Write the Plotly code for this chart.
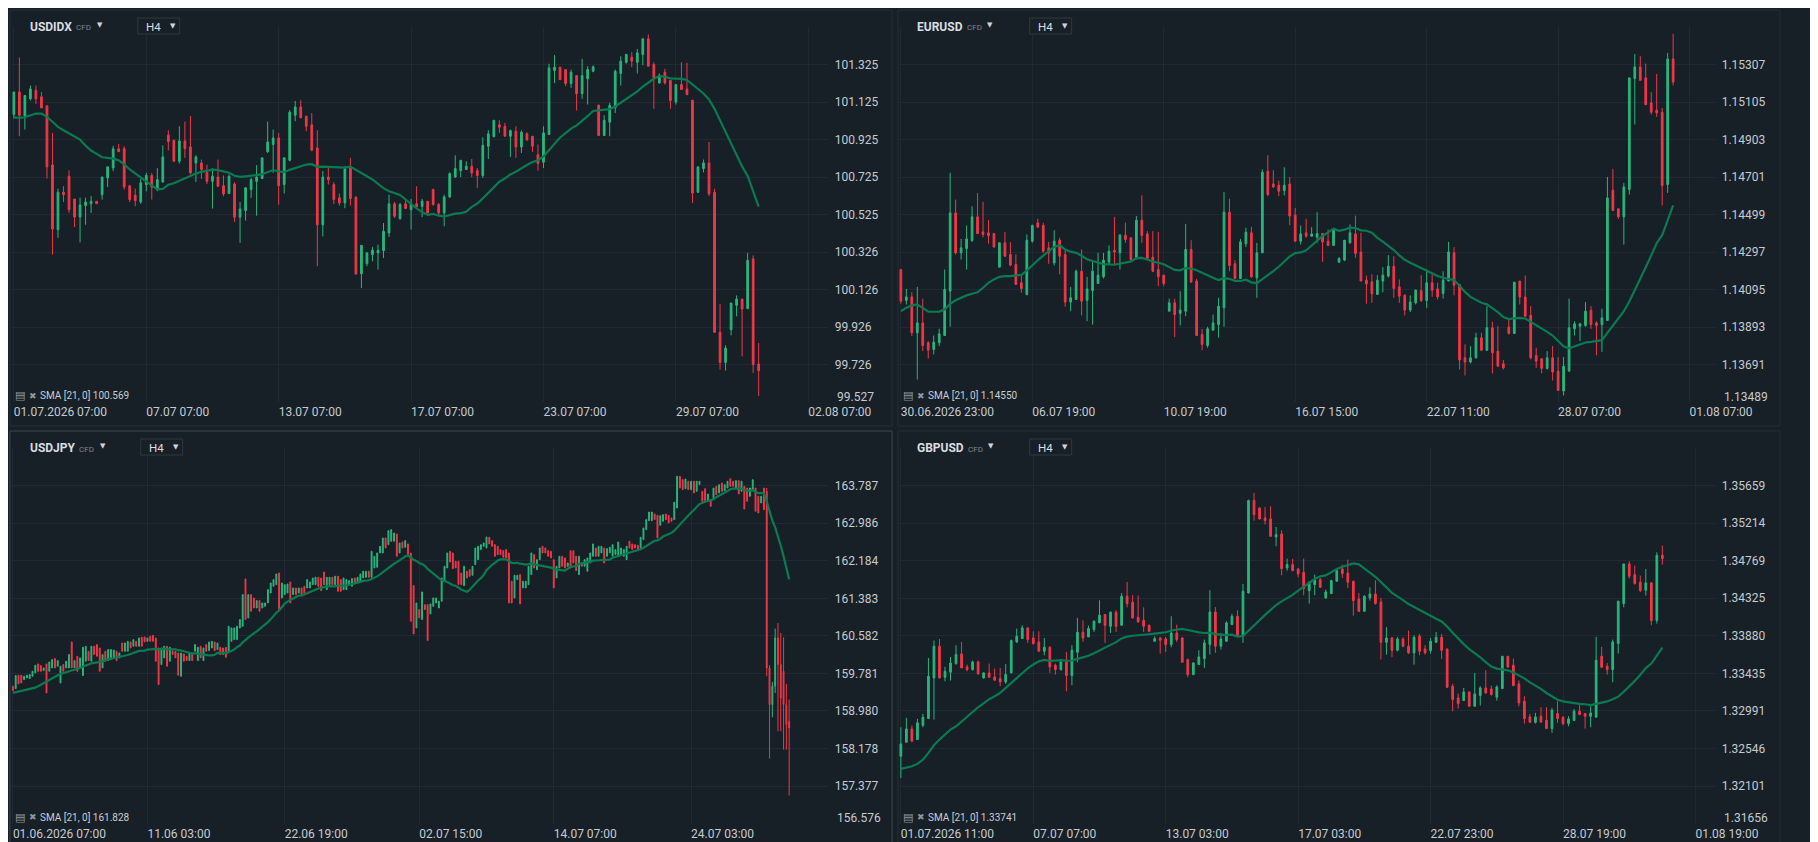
import pandas as pd
import plotly.graph_objects as go

# ---------------- data (H4 candles) ----------------

# USDIDX
usdidx_open = [101.059, 101.179, 101.050, 101.142, 101.188, 101.153, 101.105, 100.790, 100.446, 100.645,
               100.730, 100.609, 100.513, 100.574, 100.583, 100.597, 100.632, 100.721, 100.774, 100.876,
               100.877, 100.679, 100.629, 100.593, 100.686, 100.734, 100.664, 100.700, 100.949, 100.922,
               100.810, 100.918, 100.886, 100.801, 100.801, 100.751, 100.703, 100.726, 100.680, 100.638,
               100.689, 100.512, 100.547, 100.659, 100.703, 100.718, 100.861, 100.899, 100.934, 100.686,
               100.815, 101.055, 101.099, 101.050, 101.004, 100.881, 100.472, 100.726, 100.686, 100.615,
               100.588, 100.780, 100.618, 100.211, 100.265, 100.313, 100.322, 100.334, 100.428, 100.583,
               100.504, 100.583, 100.552, 100.583, 100.570, 100.597, 100.659, 100.579, 100.535, 100.620,
               100.726, 100.760, 100.766, 100.783, 100.760, 100.734, 100.890, 100.940, 101.004, 100.996,
               100.943, 100.970, 100.886, 100.956, 100.943, 100.845, 100.805, 100.952, 101.293, 101.311,
               101.298, 101.224, 101.266, 101.170, 101.249, 101.289, 101.108, 100.947, 101.018, 101.094,
               101.277, 101.337, 101.364, 101.337, 101.378, 101.462, 101.325, 101.227, 101.284, 101.240,
               101.126, 101.218, 101.195, 101.135, 100.645, 100.771, 100.801, 100.645, 99.899, 99.739,
               99.913, 100.043, 100.076, 100.025, 100.290, 99.730]
usdidx_high = [101.179, 101.362, 101.160, 101.213, 101.213, 101.179, 101.105, 100.961, 100.664, 100.677,
               100.762, 100.609, 100.616, 100.616, 100.625, 100.597, 100.726, 100.780, 100.892, 100.902,
               100.890, 100.684, 100.664, 100.716, 100.748, 100.748, 100.773, 100.895, 100.975, 100.922,
               100.996, 101.021, 101.052, 100.842, 100.819, 100.792, 100.773, 100.819, 100.734, 100.739,
               100.698, 100.593, 100.673, 100.721, 100.789, 100.828, 101.021, 100.979, 100.961, 100.828,
               101.082, 101.131, 101.135, 101.050, 101.067, 100.975, 100.758, 100.774, 100.698, 100.638,
               100.783, 100.828, 100.624, 100.362, 100.325, 100.354, 100.366, 100.481, 100.632, 100.593,
               100.588, 100.606, 100.609, 100.677, 100.609, 100.597, 100.664, 100.588, 100.632, 100.751,
               100.842, 100.815, 100.810, 100.822, 100.774, 100.938, 100.975, 101.028, 101.028, 101.014,
               100.979, 100.996, 100.975, 100.964, 100.943, 100.899, 100.996, 101.329, 101.375, 101.311,
               101.298, 101.298, 101.266, 101.355, 101.316, 101.320, 101.112, 101.055, 101.121, 101.298,
               101.369, 101.382, 101.391, 101.408, 101.462, 101.485, 101.337, 101.277, 101.302, 101.240,
               101.218, 101.337, 101.334, 101.135, 100.780, 100.819, 100.913, 100.663, 100.050, 99.830,
               100.055, 100.096, 100.076, 100.322, 100.309, 99.842]
usdidx_low = [101.037, 100.943, 100.979, 101.133, 101.115, 101.094, 100.718, 100.313, 100.402, 100.593,
              100.535, 100.460, 100.378, 100.472, 100.535, 100.584, 100.606, 100.673, 100.757, 100.861,
              100.659, 100.593, 100.570, 100.583, 100.650, 100.606, 100.650, 100.695, 100.867, 100.806,
              100.798, 100.828, 100.739, 100.700, 100.716, 100.689, 100.558, 100.673, 100.624, 100.638,
              100.487, 100.375, 100.494, 100.615, 100.520, 100.718, 100.854, 100.748, 100.579, 100.638,
              100.810, 101.023, 101.041, 100.970, 100.863, 100.251, 100.410, 100.686, 100.583, 100.574,
              100.560, 100.574, 100.206, 100.135, 100.251, 100.277, 100.233, 100.295, 100.407, 100.508,
              100.499, 100.558, 100.446, 100.567, 100.512, 100.535, 100.574, 100.520, 100.464, 100.615,
              100.721, 100.726, 100.766, 100.725, 100.668, 100.721, 100.822, 100.940, 100.961, 100.943,
              100.833, 100.828, 100.854, 100.917, 100.860, 100.760, 100.774, 100.952, 101.227, 101.242,
              101.210, 101.201, 101.080, 101.142, 101.112, 101.284, 100.947, 100.947, 100.943, 101.067,
              101.213, 101.330, 101.311, 101.277, 101.321, 101.316, 101.089, 101.222, 101.218, 101.089,
              101.112, 101.192, 101.162, 100.588, 100.641, 100.751, 100.624, 99.899, 99.700, 99.695,
              99.883, 99.984, 99.771, 100.025, 99.682, 99.561]
usdidx_close = [101.179, 101.055, 101.160, 101.195, 101.142, 101.094, 100.780, 100.449, 100.645, 100.632,
                100.552, 100.513, 100.577, 100.593, 100.597, 100.584, 100.726, 100.780, 100.876, 100.861,
                100.673, 100.606, 100.600, 100.695, 100.734, 100.671, 100.712, 100.833, 100.915, 100.810,
                100.918, 100.877, 100.748, 100.833, 100.766, 100.703, 100.730, 100.677, 100.636, 100.730,
                100.512, 100.556, 100.668, 100.712, 100.726, 100.828, 100.913, 100.934, 100.680, 100.828,
                101.071, 101.099, 101.041, 100.996, 100.869, 100.472, 100.726, 100.712, 100.606, 100.588,
                100.769, 100.611, 100.210, 100.362, 100.322, 100.336, 100.336, 100.437, 100.583, 100.517,
                100.579, 100.558, 100.583, 100.567, 100.597, 100.535, 100.579, 100.535, 100.620, 100.744,
                100.771, 100.815, 100.783, 100.748, 100.734, 100.895, 100.956, 101.028, 100.991, 100.943,
                100.973, 100.886, 100.964, 100.925, 100.890, 100.798, 100.961, 101.307, 101.311, 101.245,
                101.224, 101.284, 101.170, 101.266, 101.298, 101.313, 100.947, 101.028, 101.107, 101.289,
                101.343, 101.378, 101.343, 101.387, 101.462, 101.316, 101.254, 101.268, 101.227, 101.133,
                101.218, 101.192, 101.165, 100.641, 100.780, 100.801, 100.636, 99.899, 99.739, 99.815,
                100.055, 100.076, 100.023, 100.282, 99.727, 99.695]
# SMA(21) values for the first 20 bars (its history starts before the visible window)
usdidx_sma_head = [101.044, 101.041, 101.044, 101.055, 101.064, 101.064, 101.046, 101.020, 100.993, 100.975,
                   100.957, 100.940, 100.925, 100.893, 100.867, 100.849, 100.831, 100.828, 100.824, 100.815]
usdidx_price_ticks = ["101.325", "101.125", "100.925", "100.725", "100.525",
                      "100.326", "100.126", "99.926", "99.726", "99.527"]
usdidx_time_ticks = [0, 24, 48, 72, 96, 120, 144]
usdidx_time_labels = ["01.07.2026 07:00", "07.07 07:00", "13.07 07:00", "17.07 07:00",
                      "23.07 07:00", "29.07 07:00", "02.08 07:00"]
usdidx_sma_label = "100.569"

# EURUSD
eurusd_open = [1.14203, 1.14037, 1.14056, 1.13863, 1.13916, 1.13809, 1.13773, 1.13809, 1.13848, 1.14087,
               1.14508, 1.14293, 1.14316, 1.14359, 1.14487, 1.14406, 1.14401, 1.14397, 1.14216, 1.14347,
               1.14284, 1.14230, 1.14132, 1.14069, 1.14356, 1.14455, 1.14440, 1.14320, 1.14239, 1.14361,
               1.14284, 1.14028, 1.14042, 1.14194, 1.14037, 1.14090, 1.14128, 1.14164, 1.14243, 1.14306,
               1.14293, 1.14388, 1.14374, 1.14266, 1.14469, 1.14395, 1.14270, 1.14203, 1.14173, 1.13979,
               1.14024, 1.13967, 1.13979, 1.14311, 1.14141, 1.13854, 1.13794, 1.13877, 1.13907, 1.13997,
               1.14512, 1.14234, 1.14155, 1.14342, 1.14401, 1.14159, 1.14293, 1.14733, 1.14664, 1.14657,
               1.14629, 1.14664, 1.14496, 1.14356, 1.14401, 1.14383, 1.14377, 1.14397, 1.14356, 1.14333,
               1.14243, 1.14254, 1.14347, 1.14395, 1.14297, 1.14146, 1.14137, 1.14069, 1.14141, 1.14168,
               1.14221, 1.14110, 1.14065, 1.13985, 1.14024, 1.14090, 1.14037, 1.14132, 1.14099, 1.14074,
               1.14141, 1.14293, 1.14123, 1.13728, 1.13705, 1.13728, 1.13836, 1.13768, 1.13890, 1.13764,
               1.13696, 1.13893, 1.13859, 1.14141, 1.14055, 1.13956, 1.13741, 1.13723, 1.13671, 1.13728,
               1.13656, 1.13549, 1.13656, 1.13884, 1.13898, 1.13902, 1.13983, 1.13916, 1.13907, 1.13929,
               1.14630, 1.14530, 1.14487, 1.14634, 1.15231, 1.15294, 1.15235, 1.15100, 1.15061, 1.15050,
               1.14661, 1.15337]
eurusd_high = [1.14203, 1.14099, 1.14081, 1.14110, 1.14046, 1.13818, 1.13848, 1.13884, 1.14203, 1.14724,
               1.14580, 1.14368, 1.14440, 1.14544, 1.14616, 1.14568, 1.14469, 1.14401, 1.14347, 1.14406,
               1.14350, 1.14284, 1.14177, 1.14392, 1.14446, 1.14476, 1.14455, 1.14352, 1.14415, 1.14374,
               1.14307, 1.14110, 1.14203, 1.14311, 1.14164, 1.14243, 1.14293, 1.14293, 1.14333, 1.14487,
               1.14395, 1.14455, 1.14374, 1.14491, 1.14602, 1.14410, 1.14410, 1.14406, 1.14173, 1.14046,
               1.14046, 1.14087, 1.14449, 1.14361, 1.14153, 1.13884, 1.13895, 1.13961, 1.14051, 1.14620,
               1.14584, 1.14254, 1.14368, 1.14428, 1.14433, 1.14347, 1.14742, 1.14819, 1.14738, 1.14682,
               1.14754, 1.14702, 1.14535, 1.14440, 1.14476, 1.14431, 1.14512, 1.14397, 1.14419, 1.14419,
               1.14270, 1.14361, 1.14446, 1.14494, 1.14401, 1.14171, 1.14177, 1.14173, 1.14216, 1.14281,
               1.14275, 1.14150, 1.14069, 1.14064, 1.14096, 1.14173, 1.14203, 1.14177, 1.14132, 1.14194,
               1.14352, 1.14324, 1.14123, 1.13800, 1.13791, 1.13863, 1.13863, 1.14006, 1.13922, 1.13898,
               1.13716, 1.13934, 1.14135, 1.14141, 1.14171, 1.14006, 1.13782, 1.13724, 1.13764, 1.13791,
               1.13732, 1.13732, 1.14046, 1.13925, 1.13916, 1.14028, 1.14006, 1.13925, 1.13992, 1.14702,
               1.14745, 1.14530, 1.14670, 1.15235, 1.15364, 1.15352, 1.15312, 1.15158, 1.15256, 1.15073,
               1.15370, 1.15472]
eurusd_low = [1.14019, 1.14015, 1.13845, 1.13611, 1.13764, 1.13724, 1.13746, 1.13791, 1.13848, 1.13895,
              1.14284, 1.14257, 1.14203, 1.14352, 1.14397, 1.14377, 1.14343, 1.14320, 1.14216, 1.14272,
              1.14221, 1.14123, 1.14078, 1.14064, 1.14347, 1.14431, 1.14293, 1.14234, 1.14225, 1.14177,
              1.14003, 1.13979, 1.14042, 1.13956, 1.13925, 1.13907, 1.14128, 1.14155, 1.14230, 1.14230,
              1.14203, 1.14347, 1.14254, 1.14257, 1.14347, 1.14254, 1.14189, 1.14114, 1.14114, 1.13979,
              1.13839, 1.13902, 1.13952, 1.14135, 1.13845, 1.13769, 1.13782, 1.13872, 1.13836, 1.13895,
              1.14194, 1.14155, 1.14155, 1.14324, 1.14159, 1.14051, 1.14293, 1.14598, 1.14643, 1.14598,
              1.14602, 1.14442, 1.14352, 1.14338, 1.14374, 1.14379, 1.14347, 1.14245, 1.14329, 1.14333,
              1.14239, 1.14248, 1.14343, 1.14266, 1.14141, 1.14019, 1.14024, 1.14069, 1.14081, 1.14159,
              1.14051, 1.14024, 1.13956, 1.13974, 1.14015, 1.14028, 1.13997, 1.14056, 1.14042, 1.14046,
              1.14141, 1.14064, 1.13665, 1.13633, 1.13698, 1.13724, 1.13764, 1.13768, 1.13644, 1.13678,
              1.13665, 1.13854, 1.13859, 1.14015, 1.13949, 1.13719, 1.13674, 1.13644, 1.13665, 1.13606,
              1.13552, 1.13525, 1.13656, 1.13848, 1.13818, 1.13895, 1.13884, 1.13741, 1.13760, 1.13929,
              1.14521, 1.14476, 1.14338, 1.14607, 1.14984, 1.15222, 1.15091, 1.15038, 1.15025, 1.14548,
              1.14616, 1.15195]
eurusd_close = [1.14033, 1.14056, 1.13863, 1.13916, 1.13794, 1.13769, 1.13812, 1.13857, 1.14096, 1.14508,
                1.14293, 1.14320, 1.14368, 1.14487, 1.14397, 1.14392, 1.14386, 1.14325, 1.14347, 1.14275,
                1.14227, 1.14123, 1.14101, 1.14361, 1.14440, 1.14431, 1.14302, 1.14293, 1.14356, 1.14275,
                1.14028, 1.14051, 1.14194, 1.14033, 1.14099, 1.14194, 1.14173, 1.14254, 1.14302, 1.14297,
                1.14388, 1.14365, 1.14257, 1.14469, 1.14386, 1.14263, 1.14194, 1.14164, 1.14128, 1.14024,
                1.13961, 1.13985, 1.14311, 1.14135, 1.13848, 1.13800, 1.13884, 1.13916, 1.14006, 1.14512,
                1.14225, 1.14155, 1.14352, 1.14404, 1.14164, 1.14293, 1.14727, 1.14607, 1.14648, 1.14625,
                1.14657, 1.14491, 1.14356, 1.14395, 1.14383, 1.14395, 1.14397, 1.14352, 1.14333, 1.14415,
                1.14263, 1.14361, 1.14401, 1.14290, 1.14141, 1.14126, 1.14073, 1.14146, 1.14173, 1.14221,
                1.14101, 1.14060, 1.13985, 1.14028, 1.14092, 1.14037, 1.14132, 1.14092, 1.14056, 1.14146,
                1.14298, 1.14119, 1.13716, 1.13705, 1.13728, 1.13836, 1.13769, 1.13890, 1.13755, 1.13683,
                1.13674, 1.13859, 1.14135, 1.14055, 1.13952, 1.13728, 1.13710, 1.13671, 1.13728, 1.13651,
                1.13552, 1.13683, 1.13890, 1.13911, 1.13911, 1.13979, 1.13907, 1.13902, 1.13943, 1.14589,
                1.14521, 1.14487, 1.14648, 1.15235, 1.15294, 1.15222, 1.15091, 1.15050, 1.15047, 1.14655,
                1.15337, 1.15213]
eurusd_sma_head = [1.13979, 1.13997, 1.14010, 1.14015, 1.13997, 1.13977, 1.13976, 1.13977, 1.13988, 1.14019,
                   1.14038, 1.14053, 1.14064, 1.14073, 1.14081, 1.14105, 1.14132, 1.14150, 1.14164, 1.14168]
eurusd_price_ticks = ["1.15307", "1.15105", "1.14903", "1.14701", "1.14499",
                      "1.14297", "1.14095", "1.13893", "1.13691", "1.13489"]
eurusd_time_ticks = [0, 24, 48, 72, 96, 120, 144]
eurusd_time_labels = ["30.06.2026 23:00", "06.07 19:00", "10.07 19:00", "16.07 15:00",
                      "22.07 11:00", "28.07 07:00", "01.08 07:00"]
eurusd_sma_label = "1.14550"

# USDJPY
usdjpy_open = [159.506, 159.457, 159.741, 159.741, 159.649, 159.684, 159.670, 159.720, 159.791, 159.983,
               159.947, 159.840, 159.983, 159.826, 159.897, 160.097, 159.933, 159.577, 159.969, 159.897,
               159.897, 160.452, 159.897, 160.146, 159.897, 159.734, 160.040, 160.253, 160.040, 160.360,
               160.395, 160.324, 159.897, 160.253, 160.054, 160.075, 160.111, 160.253, 160.111, 160.431,
               160.253, 160.253, 160.452, 160.360, 160.466, 160.360, 160.552, 160.559, 160.466, 160.573,
               160.594, 160.537, 160.324, 159.969, 160.111, 160.360, 160.040, 160.253, 160.253, 160.217,
               159.720, 160.196, 160.146, 160.054, 160.217, 160.253, 160.054, 160.360, 160.054, 160.395,
               160.267, 160.324, 160.452, 160.289, 160.338, 160.324, 160.338, 160.253, 160.466, 160.502,
               160.502, 160.751, 160.786, 161.796, 160.964, 161.462, 161.391, 161.177, 161.334, 161.177,
               161.213, 161.284, 161.497, 161.640, 161.675, 161.924, 161.391, 161.462, 161.497, 161.732,
               161.462, 161.604, 161.497, 161.604, 161.640, 161.604, 161.604, 161.675, 161.675, 161.832,
               161.817, 161.945, 161.568, 161.675, 161.832, 161.675, 161.853, 161.782, 161.568, 161.568,
               161.675, 161.640, 161.817, 161.732, 161.746, 161.817, 161.832, 161.960, 161.832, 162.031,
               162.045, 162.351, 162.351, 162.671, 162.528, 162.600, 162.600, 162.756, 162.351, 162.585,
               162.472, 162.543, 162.351, 161.654, 160.751, 161.142, 160.929, 161.248, 161.248, 161.049,
               161.213, 161.284, 161.177, 161.320, 161.746, 162.031, 162.386, 162.351, 162.173, 162.173,
               161.924, 161.654, 161.960, 161.995, 161.874, 162.102, 162.208, 162.422, 162.493, 162.457,
               162.685, 162.614, 162.528, 162.493, 162.422, 162.400, 162.422, 162.351, 161.746, 161.391,
               161.782, 161.888, 161.604, 161.604, 161.675, 161.888, 162.315, 161.995, 162.208, 162.493,
               162.457, 162.400, 162.386, 162.208, 161.817, 162.031, 162.280, 162.244, 162.066, 162.400,
               162.400, 162.280, 161.888, 162.137, 162.066, 161.960, 162.137, 162.280, 162.457, 162.280,
               162.351, 162.457, 162.280, 162.351, 162.280, 162.315, 162.280, 162.315, 162.280, 162.208,
               162.600, 162.543, 162.528, 162.514, 162.457, 162.635, 162.848, 163.040, 163.040, 163.183,
               163.154, 162.941, 163.026, 163.183, 163.154, 163.097, 163.062, 163.311, 163.986, 163.915,
               163.723, 163.880, 163.702, 163.880, 163.666, 163.808, 163.666, 163.723, 163.453, 163.488,
               163.488, 163.773, 163.631, 163.844, 163.680, 163.737, 163.936, 163.880, 163.737, 163.894,
               163.666, 163.773, 163.737, 163.560, 163.702, 163.737, 163.560, 163.417, 163.737, 163.666,
               159.897, 159.115, 159.506, 160.537, 159.969, 159.826, 159.115, 158.760]
usdjpy_high = [159.506, 159.734, 159.741, 159.741, 159.720, 159.741, 159.755, 159.826, 159.954, 159.983,
               159.947, 159.897, 159.983, 160.025, 160.075, 160.097, 160.054, 159.933, 159.969, 160.040,
               160.182, 160.452, 160.054, 160.146, 160.111, 160.338, 160.360, 160.253, 160.360, 160.360,
               160.395, 160.324, 160.182, 160.253, 160.289, 160.289, 160.281, 160.253, 160.217, 160.431,
               160.431, 160.466, 160.452, 160.502, 160.466, 160.537, 160.552, 160.559, 160.537, 160.573,
               160.594, 160.537, 160.324, 160.324, 160.360, 160.360, 160.338, 160.253, 160.253, 160.217,
               160.217, 160.196, 160.146, 160.217, 160.217, 160.395, 160.338, 160.360, 160.324, 160.395,
               160.452, 160.466, 160.452, 160.431, 160.338, 160.324, 160.338, 160.786, 160.751, 160.751,
               160.786, 160.929, 161.462, 161.796, 161.462, 161.462, 161.391, 161.334, 161.334, 161.284,
               161.284, 161.568, 161.711, 161.782, 161.903, 161.924, 161.711, 161.675, 161.689, 161.732,
               161.604, 161.604, 161.604, 161.604, 161.640, 161.782, 161.732, 161.817, 161.832, 161.832,
               161.817, 161.945, 161.832, 161.832, 161.832, 161.853, 161.853, 161.782, 161.817, 161.782,
               161.760, 161.803, 161.817, 161.832, 161.903, 161.960, 161.960, 161.960, 162.386, 162.280,
               162.351, 162.493, 162.671, 162.671, 162.827, 162.848, 162.777, 162.756, 162.564, 162.585,
               162.614, 162.543, 162.351, 161.654, 161.284, 161.142, 161.519, 161.248, 161.248, 161.263,
               161.391, 161.391, 161.320, 161.817, 162.066, 162.351, 162.386, 162.351, 162.173, 162.173,
               161.924, 162.066, 161.960, 161.995, 162.066, 162.457, 162.493, 162.528, 162.564, 162.692,
               162.685, 162.614, 162.528, 162.493, 162.422, 162.400, 162.422, 162.351, 161.746, 161.874,
               161.874, 161.888, 161.746, 161.746, 162.066, 162.351, 162.315, 162.208, 162.457, 162.493,
               162.457, 162.400, 162.386, 162.208, 162.066, 162.280, 162.280, 162.244, 162.137, 162.400,
               162.400, 162.280, 162.280, 162.137, 162.208, 162.244, 162.351, 162.543, 162.457, 162.493,
               162.493, 162.457, 162.443, 162.472, 162.528, 162.422, 162.585, 162.457, 162.422, 162.493,
               162.600, 162.543, 162.528, 162.514, 162.685, 162.884, 163.062, 163.225, 163.225, 163.183,
               163.154, 163.147, 163.168, 163.183, 163.154, 163.097, 163.432, 163.986, 163.986, 163.915,
               163.929, 163.880, 163.880, 163.880, 163.880, 163.880, 163.666, 163.723, 163.609, 163.488,
               163.737, 163.773, 163.808, 163.844, 163.808, 163.880, 163.936, 163.880, 163.894, 163.894,
               163.880, 163.773, 163.737, 163.737, 163.915, 163.737, 163.560, 163.560, 163.737, 163.737,
               159.954, 159.599, 160.737, 160.857, 160.644, 160.552, 159.556, 159.222]
usdjpy_low = [159.414, 159.457, 159.556, 159.577, 159.649, 159.684, 159.670, 159.720, 159.791, 159.826,
              159.826, 159.840, 159.364, 159.826, 159.897, 159.897, 159.933, 159.577, 159.826, 159.897,
              159.897, 159.897, 159.897, 159.826, 159.897, 159.734, 160.040, 160.054, 160.040, 160.182,
              160.146, 159.826, 159.897, 160.040, 160.054, 160.075, 160.111, 160.054, 160.111, 160.253,
              160.253, 160.253, 160.324, 160.360, 160.360, 160.360, 160.360, 160.452, 160.466, 160.466,
              160.466, 160.040, 159.542, 159.969, 160.111, 159.933, 160.040, 160.182, 160.111, 159.741,
              159.720, 160.040, 160.054, 160.054, 160.054, 160.253, 160.054, 160.111, 160.054, 160.253,
              160.267, 160.324, 160.267, 160.289, 160.182, 160.182, 160.125, 160.253, 160.466, 160.502,
              160.502, 160.751, 160.786, 160.929, 160.964, 161.106, 161.177, 161.177, 161.106, 161.177,
              161.213, 161.284, 161.497, 161.640, 161.675, 161.142, 161.391, 161.462, 161.497, 161.284,
              161.462, 161.462, 161.497, 161.462, 161.497, 161.604, 161.604, 161.675, 161.675, 161.640,
              161.547, 161.675, 161.568, 161.675, 161.675, 161.675, 161.533, 161.533, 161.568, 161.568,
              161.675, 161.640, 161.711, 161.732, 161.746, 161.817, 161.832, 161.832, 161.832, 162.031,
              162.045, 162.351, 162.351, 162.457, 162.528, 162.600, 162.600, 162.280, 162.351, 162.457,
              162.472, 162.315, 160.893, 160.623, 160.751, 160.964, 160.929, 161.142, 160.481, 161.049,
              161.213, 161.284, 161.177, 161.320, 161.746, 162.031, 162.159, 162.016, 162.031, 161.675,
              161.675, 161.654, 161.817, 161.853, 161.874, 162.102, 162.208, 162.422, 162.493, 162.457,
              162.543, 162.493, 162.280, 162.315, 162.315, 162.258, 162.244, 161.284, 161.284, 161.391,
              161.782, 161.263, 161.604, 161.604, 161.675, 161.888, 162.031, 161.995, 162.208, 162.351,
              162.351, 162.280, 162.244, 161.604, 161.817, 162.031, 162.066, 162.031, 162.066, 162.031,
              162.137, 161.974, 161.888, 162.066, 162.066, 161.960, 162.137, 162.280, 162.280, 162.280,
              162.351, 162.137, 162.280, 162.351, 162.280, 162.315, 162.280, 162.315, 162.280, 162.208,
              162.457, 162.422, 162.457, 162.422, 162.457, 162.635, 162.848, 163.040, 163.040, 163.062,
              162.671, 162.941, 163.026, 163.062, 162.991, 163.026, 163.062, 163.311, 163.737, 163.702,
              163.723, 163.702, 163.702, 163.631, 163.666, 163.808, 163.453, 163.467, 163.453, 163.346,
              163.488, 163.595, 163.631, 163.666, 163.680, 163.737, 163.773, 163.773, 163.737, 163.609,
              163.666, 163.289, 163.453, 163.560, 163.702, 163.240, 163.204, 163.417, 163.275, 159.720,
              157.963, 158.845, 159.364, 158.546, 158.546, 158.155, 158.155, 157.174]
usdjpy_close = [159.414, 159.734, 159.556, 159.577, 159.720, 159.741, 159.755, 159.826, 159.954, 159.826,
                159.826, 159.897, 159.364, 160.025, 160.075, 159.897, 160.054, 159.933, 159.826, 160.040,
                160.182, 159.897, 160.054, 159.826, 160.111, 160.338, 160.360, 160.054, 160.360, 160.182,
                160.146, 159.826, 160.182, 160.040, 160.289, 160.289, 160.281, 160.054, 160.217, 160.253,
                160.431, 160.466, 160.324, 160.502, 160.360, 160.537, 160.360, 160.452, 160.537, 160.466,
                160.466, 160.040, 159.542, 160.324, 160.360, 159.933, 160.338, 160.182, 160.111, 159.741,
                160.217, 160.040, 160.054, 160.217, 160.054, 160.395, 160.338, 160.111, 160.324, 160.253,
                160.452, 160.466, 160.267, 160.431, 160.182, 160.182, 160.125, 160.786, 160.751, 160.751,
                160.786, 160.929, 161.462, 160.929, 161.462, 161.106, 161.177, 161.334, 161.106, 161.284,
                161.284, 161.568, 161.711, 161.782, 161.903, 161.142, 161.711, 161.675, 161.689, 161.284,
                161.604, 161.462, 161.604, 161.462, 161.497, 161.782, 161.732, 161.817, 161.832, 161.640,
                161.547, 161.675, 161.832, 161.832, 161.675, 161.853, 161.533, 161.533, 161.817, 161.782,
                161.760, 161.803, 161.711, 161.832, 161.903, 161.960, 161.960, 161.832, 162.386, 162.280,
                162.351, 162.493, 162.671, 162.457, 162.827, 162.848, 162.777, 162.280, 162.564, 162.457,
                162.614, 162.315, 160.893, 160.623, 161.284, 160.964, 161.519, 161.142, 160.481, 161.263,
                161.391, 161.391, 161.320, 161.817, 162.066, 162.351, 162.159, 162.016, 162.031, 161.675,
                161.675, 162.066, 161.817, 161.853, 162.066, 162.457, 162.493, 162.528, 162.564, 162.692,
                162.543, 162.493, 162.280, 162.315, 162.315, 162.258, 162.244, 161.284, 161.284, 161.874,
                161.874, 161.263, 161.746, 161.746, 162.066, 162.351, 162.031, 162.208, 162.457, 162.351,
                162.351, 162.280, 162.244, 161.604, 162.066, 162.280, 162.066, 162.031, 162.137, 162.031,
                162.137, 161.974, 162.280, 162.066, 162.208, 162.244, 162.351, 162.543, 162.280, 162.493,
                162.493, 162.137, 162.443, 162.472, 162.528, 162.422, 162.585, 162.457, 162.422, 162.493,
                162.457, 162.422, 162.457, 162.422, 162.685, 162.884, 163.062, 163.225, 163.225, 163.062,
                162.671, 163.147, 163.168, 163.062, 162.991, 163.026, 163.432, 163.986, 163.737, 163.702,
                163.929, 163.702, 163.880, 163.631, 163.880, 163.880, 163.453, 163.467, 163.609, 163.346,
                163.737, 163.595, 163.808, 163.666, 163.808, 163.880, 163.773, 163.773, 163.894, 163.609,
                163.880, 163.289, 163.453, 163.737, 163.915, 163.240, 163.204, 163.560, 163.275, 159.897,
                159.115, 159.506, 160.537, 159.969, 159.257, 159.115, 158.689, 158.617]
usdjpy_sma_head = [159.364, 159.378, 159.393, 159.407, 159.421, 159.428, 159.443, 159.457, 159.478, 159.506,
                   159.542, 159.577, 159.613, 159.649, 159.684, 159.712, 159.741, 159.769, 159.791, 159.812]
usdjpy_price_ticks = ["163.787", "162.986", "162.184", "161.383", "160.582",
                      "159.781", "158.980", "158.178", "157.377", "156.576"]
usdjpy_time_ticks = [0, 48, 97, 145, 193, 242]
usdjpy_time_labels = ["01.06.2026 07:00", "11.06 03:00", "22.06 19:00", "02.07 15:00",
                      "14.07 07:00", "24.07 03:00"]
usdjpy_sma_label = "161.828"

# GBPUSD
gbpusd_open = [1.32454, 1.32620, 1.32777, 1.32651, 1.32821, 1.32900, 1.33381, 1.33757, 1.33389, 1.33449,
               1.33551, 1.33666, 1.33512, 1.33480, 1.33571, 1.33381, 1.33441, 1.33393, 1.33374, 1.33334,
               1.33441, 1.33808, 1.33847, 1.33974, 1.33855, 1.33808, 1.33697, 1.33745, 1.33532, 1.33480,
               1.33571, 1.33409, 1.33685, 1.33922, 1.33867, 1.33954, 1.34033, 1.34132, 1.33993, 1.34159,
               1.34005, 1.34349, 1.34278, 1.34100, 1.34064, 1.34005, 1.33816, 1.33855, 1.33843, 1.33776,
               1.33914, 1.33855, 1.33599, 1.33421, 1.33539, 1.33610, 1.33776, 1.34163, 1.33757, 1.33816,
               1.34013, 1.34112, 1.33875, 1.34388, 1.35486, 1.35395, 1.35277, 1.35265, 1.35051, 1.35087,
               1.34684, 1.34724, 1.34672, 1.34633, 1.34416, 1.34487, 1.34546, 1.34329, 1.34380, 1.34526,
               1.34672, 1.34625, 1.34526, 1.34317, 1.34171, 1.34329, 1.34376, 1.34282, 1.33804, 1.33855,
               1.33709, 1.33843, 1.33757, 1.33678, 1.33875, 1.33725, 1.33705, 1.33804, 1.33863, 1.33725,
               1.33283, 1.33145, 1.33113, 1.33216, 1.33046, 1.33172, 1.33263, 1.33251, 1.33153, 1.33255,
               1.33638, 1.33532, 1.33310, 1.33105, 1.32920, 1.32856, 1.32927, 1.32880, 1.32781, 1.32959,
               1.32916, 1.32841, 1.32876, 1.32987, 1.32959, 1.32927, 1.32916, 1.33638, 1.33520, 1.33480,
               1.33788, 1.34262, 1.34732, 1.34605, 1.34515, 1.34420, 1.34507, 1.34061, 1.34834]
gbpusd_high = [1.32797, 1.32908, 1.32817, 1.32896, 1.32955, 1.33618, 1.33824, 1.33843, 1.33512, 1.33630,
               1.33768, 1.33808, 1.33539, 1.33587, 1.33587, 1.33449, 1.33551, 1.33492, 1.33500, 1.33547,
               1.33836, 1.33966, 1.34005, 1.33982, 1.33934, 1.33934, 1.33855, 1.33757, 1.33551, 1.33587,
               1.33689, 1.33768, 1.34092, 1.34064, 1.34001, 1.34064, 1.34301, 1.34132, 1.34171, 1.34183,
               1.34388, 1.34518, 1.34361, 1.34357, 1.34218, 1.34013, 1.33875, 1.33863, 1.33867, 1.34112,
               1.34013, 1.33867, 1.33610, 1.33567, 1.33709, 1.33836, 1.34420, 1.34222, 1.33914, 1.34053,
               1.34140, 1.34183, 1.34495, 1.35494, 1.35573, 1.35403, 1.35403, 1.35415, 1.35170, 1.35130,
               1.34795, 1.34791, 1.34684, 1.34795, 1.34526, 1.34605, 1.34566, 1.34428, 1.34546, 1.34684,
               1.34724, 1.34783, 1.34534, 1.34388, 1.34361, 1.34455, 1.34538, 1.34329, 1.33982, 1.33863,
               1.33867, 1.33863, 1.33942, 1.33887, 1.33903, 1.33768, 1.33855, 1.33926, 1.33903, 1.33725,
               1.33310, 1.33196, 1.33263, 1.33216, 1.33441, 1.33283, 1.33472, 1.33291, 1.33295, 1.33638,
               1.33638, 1.33610, 1.33350, 1.33164, 1.32955, 1.32967, 1.33034, 1.33034, 1.33026, 1.33105,
               1.32927, 1.32927, 1.33014, 1.33058, 1.32967, 1.33046, 1.33867, 1.33749, 1.33559, 1.33836,
               1.34297, 1.34732, 1.34763, 1.34712, 1.34594, 1.34672, 1.34518, 1.34870, 1.34949]
gbpusd_low = [1.32197, 1.32620, 1.32631, 1.32651, 1.32797, 1.32900, 1.32888, 1.33374, 1.33342, 1.33350,
              1.33539, 1.33500, 1.33460, 1.33468, 1.33421, 1.33374, 1.33389, 1.33354, 1.33283, 1.33310,
              1.33441, 1.33796, 1.33847, 1.33796, 1.33776, 1.33697, 1.33650, 1.33441, 1.33421, 1.33468,
              1.33224, 1.33295, 1.33567, 1.33808, 1.33867, 1.33926, 1.34033, 1.33796, 1.33914, 1.33926,
              1.34005, 1.34218, 1.34084, 1.34033, 1.33926, 1.33922, 1.33808, 1.33670, 1.33689, 1.33745,
              1.33808, 1.33567, 1.33389, 1.33413, 1.33539, 1.33500, 1.33658, 1.33678, 1.33717, 1.33808,
              1.34013, 1.33875, 1.33796, 1.34380, 1.35245, 1.35257, 1.35198, 1.35051, 1.34941, 1.34597,
              1.34653, 1.34645, 1.34574, 1.34361, 1.34262, 1.34361, 1.34447, 1.34321, 1.34380, 1.34526,
              1.34566, 1.34447, 1.34120, 1.34163, 1.34171, 1.34297, 1.34250, 1.33599, 1.33658, 1.33630,
              1.33697, 1.33745, 1.33666, 1.33539, 1.33650, 1.33658, 1.33670, 1.33796, 1.33607, 1.33263,
              1.32987, 1.33018, 1.33113, 1.33046, 1.33046, 1.33054, 1.33196, 1.33172, 1.33113, 1.33255,
              1.33500, 1.33283, 1.33046, 1.32841, 1.32849, 1.32841, 1.32849, 1.32781, 1.32730, 1.32849,
              1.32821, 1.32809, 1.32876, 1.32947, 1.32781, 1.32797, 1.32916, 1.33500, 1.33421, 1.33330,
              1.33670, 1.34218, 1.34558, 1.34487, 1.34400, 1.34357, 1.34005, 1.34025, 1.34724]
gbpusd_close = [1.32600, 1.32777, 1.32631, 1.32849, 1.32916, 1.33401, 1.33757, 1.33381, 1.33460, 1.33559,
                1.33658, 1.33500, 1.33480, 1.33571, 1.33429, 1.33441, 1.33389, 1.33354, 1.33334, 1.33421,
                1.33824, 1.33875, 1.33974, 1.33836, 1.33788, 1.33697, 1.33745, 1.33512, 1.33480, 1.33571,
                1.33409, 1.33709, 1.33922, 1.33855, 1.33966, 1.34053, 1.34124, 1.34005, 1.34159, 1.33993,
                1.34349, 1.34262, 1.34092, 1.34045, 1.33993, 1.33934, 1.33847, 1.33828, 1.33776, 1.33914,
                1.33836, 1.33567, 1.33421, 1.33559, 1.33630, 1.33796, 1.34163, 1.33757, 1.33843, 1.34033,
                1.34112, 1.33887, 1.34408, 1.35482, 1.35316, 1.35265, 1.35245, 1.35059, 1.35079, 1.34676,
                1.34724, 1.34653, 1.34613, 1.34440, 1.34515, 1.34546, 1.34455, 1.34400, 1.34534, 1.34653,
                1.34617, 1.34515, 1.34297, 1.34171, 1.34349, 1.34376, 1.34262, 1.33804, 1.33855, 1.33709,
                1.33843, 1.33757, 1.33678, 1.33863, 1.33697, 1.33678, 1.33816, 1.33863, 1.33709, 1.33271,
                1.33125, 1.33077, 1.33216, 1.33046, 1.33192, 1.33263, 1.33204, 1.33184, 1.33275, 1.33638,
                1.33512, 1.33291, 1.33085, 1.32900, 1.32856, 1.32920, 1.32860, 1.32781, 1.32999, 1.32900,
                1.32841, 1.32896, 1.32987, 1.32947, 1.32927, 1.32967, 1.33591, 1.33508, 1.33480, 1.33808,
                1.34290, 1.34732, 1.34586, 1.34499, 1.34416, 1.34507, 1.34061, 1.34834, 1.34795]
gbpusd_sma_head = [1.32304, 1.32316, 1.32335, 1.32363, 1.32414, 1.32493, 1.32584, 1.32651, 1.32710, 1.32770,
                   1.32809, 1.32868, 1.32927, 1.32987, 1.33034, 1.33081, 1.33129, 1.33164, 1.33204, 1.33263]
gbpusd_price_ticks = ["1.35659", "1.35214", "1.34769", "1.34325", "1.33880",
                      "1.33435", "1.32991", "1.32546", "1.32101", "1.31656"]
gbpusd_time_ticks = [0, 24, 48, 72, 96, 120, 144]
gbpusd_time_labels = ["01.07.2026 11:00", "07.07 07:00", "13.07 03:00", "17.07 03:00",
                      "22.07 23:00", "28.07 19:00", "01.08 19:00"]
gbpusd_sma_label = "1.33741"

# ---------------- styling / geometry ----------------
W, H = 1818, 842
BG = "#172027"
BORDER = "#262f38"
BORDER_ACTIVE = "#3b4650"
GRID = "#212a33"
TEXT = "#c6cbd0"
GREEN = "#28b67c"
RED = "#f23648"
SMA_COLOR = "#0a7b50"
FONT = "Roboto"
TICK_FONT = dict(family=FONT, size=12, color=TEXT)


def fx(px):
    return px / W


def fy(py):
    return 1 - py / H


def sma21(close, head):
    rolled = pd.Series(close).rolling(21).mean()
    return list(head) + rolled.iloc[len(head):].tolist()


panels = [
    dict(sym="USDIDX", o=usdidx_open, h=usdidx_high, l=usdidx_low, c=usdidx_close,
         head=usdidx_sma_head, yt=usdidx_price_ticks, xt=usdidx_time_ticks, xl=usdidx_time_labels,
         sma_txt=usdidx_sma_label,
         box=(2, 2, 906, 418), plot=(3, 19, 840, 394.3), x0=6, step=5.654,
         sym_x=20, cfd_x=68, tri_x=94, tf_x=133, border=BORDER),
    dict(sym="EURUSD", o=eurusd_open, h=eurusd_high, l=eurusd_low, c=eurusd_close,
         head=eurusd_sma_head, yt=eurusd_price_ticks, xt=eurusd_time_ticks, xl=eurusd_time_labels,
         sma_txt=eurusd_sma_label,
         box=(912, 2, 1816, 418), plot=(913, 19, 1749, 394.3), x0=915, step=5.613,
         sym_x=929, cfd_x=981, tri_x=1006, tf_x=1047, border=BORDER),
    dict(sym="USDJPY", o=usdjpy_open, h=usdjpy_high, l=usdjpy_low, c=usdjpy_close,
         head=usdjpy_sma_head, yt=usdjpy_price_ticks, xt=usdjpy_time_ticks, xl=usdjpy_time_labels,
         sma_txt=usdjpy_sma_label,
         box=(2, 423, 906, 839), plot=(3, 440.1, 840, 815.7), x0=5, step=2.872,
         sym_x=20, cfd_x=71, tri_x=97, tf_x=136, border=BORDER_ACTIVE),
    dict(sym="GBPUSD", o=gbpusd_open, h=gbpusd_high, l=gbpusd_low, c=gbpusd_close,
         head=gbpusd_sma_head, yt=gbpusd_price_ticks, xt=gbpusd_time_ticks, xl=gbpusd_time_labels,
         sma_txt=gbpusd_sma_label,
         box=(912, 423, 1816, 839), plot=(913, 440.1, 1749, 815.7), x0=915, step=5.655,
         sym_x=929, cfd_x=982, tri_x=1007, tf_x=1047, border=BORDER),
]

fig = go.Figure()
layout = dict(width=W, height=H, margin=dict(l=0, r=0, t=0, b=0),
              paper_bgcolor=BG, plot_bgcolor=BG, showlegend=False,
              boxgap=0.55, hovermode=False, font=dict(family=FONT, color=TEXT))
annotations = []
shapes = []

for k, p in enumerate(panels, start=1):
    sx = "" if k == 1 else str(k)
    n = len(p["c"])
    xs = list(range(n))
    fig.add_trace(go.Candlestick(
        x=xs, open=p["o"], high=p["h"], low=p["l"], close=p["c"],
        increasing=dict(line=dict(color=GREEN, width=1), fillcolor=GREEN),
        decreasing=dict(line=dict(color=RED, width=1), fillcolor=RED),
        whiskerwidth=0, xaxis="x" + sx, yaxis="y" + sx, showlegend=False))
    fig.add_trace(go.Scatter(
        x=xs, y=sma21(p["c"], p["head"]), mode="lines",
        line=dict(color=SMA_COLOR, width=2.2), xaxis="x" + sx, yaxis="y" + sx,
        showlegend=False))

    left, top, right, bottom = p["plot"]
    yvals = [float(t) for t in p["yt"]]
    ystep = (yvals[0] - yvals[-1]) / 9
    # the lowest price label sits on the bottom edge; the platform nudges it up
    ytext = p["yt"][:-1] + [""]
    layout["xaxis" + sx] = dict(
        domain=[fx(left), fx(right)], anchor="y" + sx,
        range=[(left - p["x0"]) / p["step"], (right - p["x0"]) / p["step"]],
        tickmode="array", tickvals=p["xt"], ticktext=p["xl"],
        ticklabelposition="outside right", ticks="", ticklabelstandoff=1,
        showgrid=True, gridcolor=GRID, gridwidth=1, zeroline=False, showline=False,
        tickfont=TICK_FONT, rangeslider=dict(visible=False), fixedrange=True)
    layout["yaxis" + sx] = dict(
        domain=[fy(bottom), fy(top)], anchor="x" + sx, side="right",
        range=[yvals[-1] - ystep * 0.003, yvals[0] + ystep],
        tickmode="array", tickvals=yvals, ticktext=ytext, ticks="",
        ticklabelstandoff=6,
        showgrid=True, gridcolor=GRID, gridwidth=1, zeroline=False, showline=False,
        tickfont=TICK_FONT, fixedrange=True)
    annotations.append(dict(text=p["yt"][-1], x=fx(right + 7), y=fy(bottom - 5.5),
                            xanchor="left", yanchor="middle", font=TICK_FONT))

    bx0, by0, bx1, by1 = p["box"]
    shapes.append(dict(type="rect", xref="paper", yref="paper",
                       x0=fx(bx0), x1=fx(bx1), y0=fy(by1), y1=fy(by0),
                       line=dict(color=p["border"], width=1), layer="above"))
    # timeframe selector box
    shapes.append(dict(type="rect", xref="paper", yref="paper",
                       x0=fx(p["tf_x"]), x1=fx(p["tf_x"] + 43),
                       y0=fy(by0 + 24), y1=fy(by0 + 8),
                       line=dict(color="#2e3841", width=1), fillcolor=BG, layer="above"))

    hy = fy(by0 + 17)
    annotations += [
        dict(text="<b>%s</b>" % p["sym"], x=fx(p["sym_x"]), y=hy, xanchor="left", yanchor="middle",
             font=dict(family=FONT, size=12, color="#d9dde1")),
        dict(text="CFD", x=fx(p["cfd_x"]), y=fy(by0 + 18), xanchor="left", yanchor="middle",
             font=dict(family=FONT, size=8, color="#7d868e")),
        dict(text="▼", x=fx(p["tri_x"]), y=fy(by0 + 15), xanchor="center", yanchor="middle",
             font=dict(family="DejaVu Sans", size=7, color="#d0d4d8")),
        dict(text="H4", x=fx(p["tf_x"] + 6), y=fy(by0 + 16.5), xanchor="left", yanchor="middle",
             font=dict(family=FONT, size=11.5, color="#d9dde1")),
        dict(text="▼", x=fx(p["tf_x"] + 36), y=fy(by0 + 15.5), xanchor="center", yanchor="middle",
             font=dict(family="DejaVu Sans", size=7, color="#d0d4d8")),
    ]
    ly = fy(bottom - 6.5)
    annotations += [
        dict(text="▤", x=fx(bx0 + 3), y=ly, xanchor="left", yanchor="middle",
             font=dict(family="DejaVu Sans", size=11, color="#8e979f")),
        dict(text="✖", x=fx(bx0 + 17), y=ly, xanchor="left", yanchor="middle",
             font=dict(family="DejaVu Sans", size=9, color="#8e979f")),
        dict(text="SMA [21, 0] " + p["sma_txt"], x=fx(bx0 + 29), y=ly, xanchor="left", yanchor="middle",
             font=dict(family=FONT, size=10, color="#c9ced3")),
    ]

for a in annotations:
    a.update(xref="paper", yref="paper", showarrow=False)
layout["annotations"] = annotations
layout["shapes"] = shapes
fig.update_layout(**layout)

fig.write_html("out.html")
